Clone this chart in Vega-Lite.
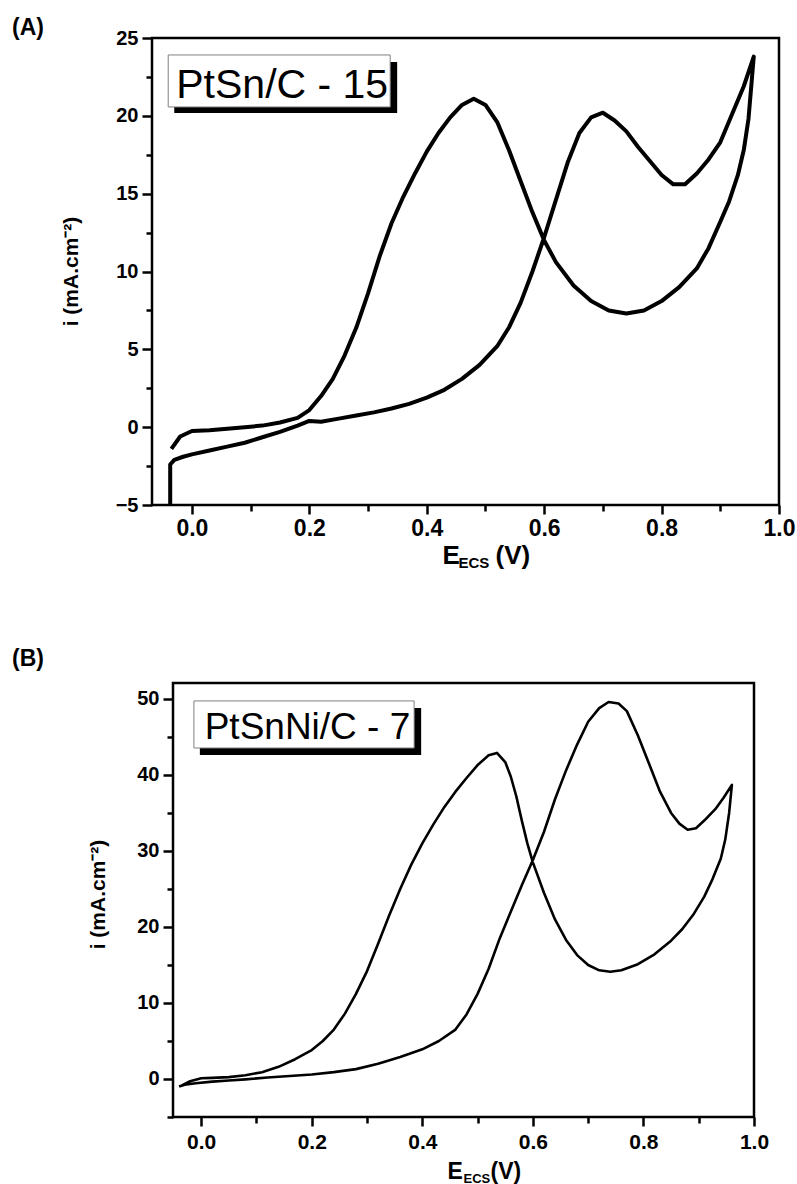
{
  "$schema": "https://vega.github.io/schema/vega-lite/v6.json",
  "autosize": {"type": "none"},
  "padding": {"left": 152, "top": 38, "right": 645, "bottom": 1146},
  "background": "white",
  "config": {
    "font": "Liberation Sans",
    "view": {"stroke": null},
    "axis": {"labelFont": "Liberation Sans", "titleFont": "Liberation Sans", "labelColor": "black", "titleColor": "black", "tickColor": "black", "labelFontWeight": "bold", "titleFontWeight": "bold", "grid": false, "domain": false, "labelOverlap": false, "labelFlush": false}
  },
  "datasets": {
    "curveA": [
      {"k":0,"E":-0.037,"i":-5.0},{"k":1,"E":-0.037,"i":-2.4},{"k":2,"E":-0.03,"i":-2.1},{"k":3,"E":-0.015,"i":-1.9},{"k":4,"E":0.0,"i":-1.75},{"k":5,"E":0.03,"i":-1.5},{"k":6,"E":0.06,"i":-1.25},{"k":7,"E":0.09,"i":-1.0},{"k":8,"E":0.12,"i":-0.65},{"k":9,"E":0.15,"i":-0.3},{"k":10,"E":0.18,"i":0.1},{"k":11,"E":0.2,"i":0.4},{"k":12,"E":0.22,"i":0.35},{"k":13,"E":0.25,"i":0.55},{"k":14,"E":0.28,"i":0.75},{"k":15,"E":0.31,"i":0.95},{"k":16,"E":0.34,"i":1.2},{"k":17,"E":0.37,"i":1.5},{"k":18,"E":0.40,"i":1.9},{"k":19,"E":0.43,"i":2.4},{"k":20,"E":0.46,"i":3.1},{"k":21,"E":0.49,"i":4.0},{"k":22,"E":0.52,"i":5.2},{"k":23,"E":0.54,"i":6.4},{"k":24,"E":0.56,"i":8.0},{"k":25,"E":0.58,"i":10.0},{"k":26,"E":0.60,"i":12.2},{"k":27,"E":0.62,"i":14.6},{"k":28,"E":0.64,"i":17.0},{"k":29,"E":0.66,"i":18.9},{"k":30,"E":0.68,"i":19.9},{"k":31,"E":0.70,"i":20.2},{"k":32,"E":0.72,"i":19.7},{"k":33,"E":0.74,"i":19.0},{"k":34,"E":0.76,"i":18.0},{"k":35,"E":0.78,"i":17.1},{"k":36,"E":0.80,"i":16.2},{"k":37,"E":0.82,"i":15.6},{"k":38,"E":0.84,"i":15.6},{"k":39,"E":0.86,"i":16.3},{"k":40,"E":0.88,"i":17.2},{"k":41,"E":0.90,"i":18.3},{"k":42,"E":0.92,"i":20.1},{"k":43,"E":0.94,"i":21.9},{"k":44,"E":0.957,"i":23.8},
      {"k":45,"E":0.953,"i":22.0},{"k":46,"E":0.948,"i":19.8},{"k":47,"E":0.94,"i":17.8},{"k":48,"E":0.93,"i":16.2},{"k":49,"E":0.915,"i":14.5},{"k":50,"E":0.90,"i":13.2},{"k":51,"E":0.88,"i":11.5},{"k":52,"E":0.86,"i":10.2},{"k":53,"E":0.83,"i":9.0},{"k":54,"E":0.80,"i":8.1},{"k":55,"E":0.77,"i":7.5},{"k":56,"E":0.74,"i":7.3},{"k":57,"E":0.71,"i":7.5},{"k":58,"E":0.68,"i":8.1},{"k":59,"E":0.65,"i":9.1},{"k":60,"E":0.62,"i":10.6},{"k":61,"E":0.60,"i":12.0},{"k":62,"E":0.58,"i":13.8},{"k":63,"E":0.56,"i":15.8},{"k":64,"E":0.54,"i":17.8},{"k":65,"E":0.52,"i":19.6},{"k":66,"E":0.50,"i":20.7},{"k":67,"E":0.48,"i":21.1},{"k":68,"E":0.46,"i":20.7},{"k":69,"E":0.44,"i":19.9},{"k":70,"E":0.42,"i":18.9},{"k":71,"E":0.40,"i":17.7},{"k":72,"E":0.38,"i":16.3},{"k":73,"E":0.36,"i":14.8},{"k":74,"E":0.34,"i":13.1},{"k":75,"E":0.32,"i":11.0},{"k":76,"E":0.30,"i":8.6},{"k":77,"E":0.28,"i":6.4},{"k":78,"E":0.26,"i":4.6},{"k":79,"E":0.24,"i":3.1},{"k":80,"E":0.22,"i":2.0},{"k":81,"E":0.20,"i":1.1},{"k":82,"E":0.18,"i":0.6},{"k":83,"E":0.15,"i":0.3},{"k":84,"E":0.12,"i":0.1},{"k":85,"E":0.09,"i":0.0},{"k":86,"E":0.06,"i":-0.1},{"k":87,"E":0.03,"i":-0.2},{"k":88,"E":0.0,"i":-0.25},{"k":89,"E":-0.02,"i":-0.6},{"k":90,"E":-0.035,"i":-1.4}
    ],
    "curveB": [
      {"k":0,"E":-0.04,"i":-1.0},{"k":1,"E":-0.03,"i":-0.75},{"k":2,"E":-0.01,"i":-0.55},{"k":3,"E":0.02,"i":-0.35},{"k":4,"E":0.05,"i":-0.2},{"k":5,"E":0.08,"i":-0.05},{"k":6,"E":0.12,"i":0.2},{"k":7,"E":0.16,"i":0.4},{"k":8,"E":0.20,"i":0.6},{"k":9,"E":0.24,"i":0.9},{"k":10,"E":0.28,"i":1.3},{"k":11,"E":0.32,"i":2.0},{"k":12,"E":0.36,"i":2.9},{"k":13,"E":0.40,"i":3.9},{"k":14,"E":0.43,"i":5.0},{"k":15,"E":0.46,"i":6.5},{"k":16,"E":0.48,"i":8.5},{"k":17,"E":0.50,"i":11.2},{"k":18,"E":0.52,"i":14.5},{"k":19,"E":0.54,"i":18.5},{"k":20,"E":0.56,"i":22.0},{"k":21,"E":0.58,"i":25.5},{"k":22,"E":0.60,"i":28.8},{"k":23,"E":0.62,"i":32.5},{"k":24,"E":0.64,"i":36.8},{"k":25,"E":0.66,"i":40.6},{"k":26,"E":0.68,"i":44.0},{"k":27,"E":0.70,"i":47.0},{"k":28,"E":0.72,"i":48.8},{"k":29,"E":0.737,"i":49.6},{"k":30,"E":0.755,"i":49.4},{"k":31,"E":0.77,"i":48.4},{"k":32,"E":0.79,"i":45.2},{"k":33,"E":0.81,"i":41.5},{"k":34,"E":0.83,"i":37.8},{"k":35,"E":0.85,"i":35.0},{"k":36,"E":0.865,"i":33.6},{"k":37,"E":0.88,"i":32.8},{"k":38,"E":0.895,"i":33.0},{"k":39,"E":0.91,"i":34.0},{"k":40,"E":0.93,"i":35.5},{"k":41,"E":0.945,"i":37.0},{"k":42,"E":0.96,"i":38.7},
      {"k":43,"E":0.955,"i":35.0},{"k":44,"E":0.948,"i":31.5},{"k":45,"E":0.94,"i":29.0},{"k":46,"E":0.925,"i":26.3},{"k":47,"E":0.91,"i":24.0},{"k":48,"E":0.89,"i":21.6},{"k":49,"E":0.87,"i":19.7},{"k":50,"E":0.85,"i":18.2},{"k":51,"E":0.82,"i":16.4},{"k":52,"E":0.79,"i":15.1},{"k":53,"E":0.76,"i":14.3},{"k":54,"E":0.74,"i":14.1},{"k":55,"E":0.72,"i":14.3},{"k":56,"E":0.70,"i":15.0},{"k":57,"E":0.68,"i":16.3},{"k":58,"E":0.66,"i":18.3},{"k":59,"E":0.64,"i":21.0},{"k":60,"E":0.62,"i":24.5},{"k":61,"E":0.60,"i":28.5},{"k":62,"E":0.59,"i":31.0},{"k":63,"E":0.58,"i":34.0},{"k":64,"E":0.57,"i":37.2},{"k":65,"E":0.56,"i":39.8},{"k":66,"E":0.55,"i":41.7},{"k":67,"E":0.535,"i":42.9},{"k":68,"E":0.52,"i":42.6},{"k":69,"E":0.50,"i":41.3},{"k":70,"E":0.48,"i":39.6},{"k":71,"E":0.46,"i":37.8},{"k":72,"E":0.44,"i":35.8},{"k":73,"E":0.42,"i":33.5},{"k":74,"E":0.40,"i":31.0},{"k":75,"E":0.38,"i":28.2},{"k":76,"E":0.36,"i":25.0},{"k":77,"E":0.34,"i":21.5},{"k":78,"E":0.32,"i":17.8},{"k":79,"E":0.30,"i":14.2},{"k":80,"E":0.28,"i":11.2},{"k":81,"E":0.26,"i":8.6},{"k":82,"E":0.24,"i":6.5},{"k":83,"E":0.22,"i":5.0},{"k":84,"E":0.20,"i":3.8},{"k":85,"E":0.17,"i":2.6},{"k":86,"E":0.14,"i":1.6},{"k":87,"E":0.11,"i":0.9},{"k":88,"E":0.08,"i":0.5},{"k":89,"E":0.05,"i":0.25},{"k":90,"E":0.02,"i":0.15},{"k":91,"E":0.0,"i":0.1},{"k":92,"E":-0.02,"i":-0.3},{"k":93,"E":-0.035,"i":-0.85}
    ],
    "labelA": [{"label":"PtSn/C - 15","E1":-0.0404,"E2":0.3377,"i1":20.57,"i2":23.91,"Es1":-0.0301,"Es2":0.3496,"is1":20.18,"is2":23.46,"Et":0.1538,"it":21.15}],
    "labelB": [{"label":"PtSnNi/C - 7","E1":-0.0132,"E2":0.3852,"i1":43.55,"i2":49.74,"Es1":-0.0024,"Es2":0.3979,"is1":42.63,"is2":48.82,"Et":0.1923,"it":44.74}]
  },
  "bounds": "flush",
  "spacing": 178,
  "vconcat": [
    {
      "width": 627,
      "height": 467,
      "view": {"stroke": "black", "strokeWidth": 2.5},
      "title": {"text": "(A)", "anchor": "start", "frame": "group", "dx": -140, "dy": 12, "offset": 0, "fontSize": 23, "fontWeight": "bold", "font": "Liberation Sans", "color": "black"},
      "resolve": {"axis": {"x": "independent", "y": "independent"}},
      "layer": [
        {
          "data": {"name": "curveA"},
          "mark": {"type": "line", "color": "black", "strokeWidth": 4, "strokeJoin": "round"},
          "encoding": {
            "x": {"field": "E", "type": "quantitative", "scale": {"domain": [-0.068, 1.0], "nice": false, "zero": false},
              "axis": {"orient": "bottom", "values": [0,0.1,0.2,0.3,0.4,0.5,0.6,0.7,0.8,0.9,1.0],
                "labelExpr": "round(datum.value*10)%2==0 ? format(datum.value,'.1f') : ''",
                "tickSize": {"condition": {"test": "round(datum.value*10)%2!=0", "value": 6}, "value": 9},
                "tickWidth": 2.5, "labelFontSize": 23, "labelPadding": 3,
                "title": "E", "titleFontSize": 26, "titleX": 290, "titleY": 58, "titleAlign": "left", "titleBaseline": "alphabetic"}},
            "y": {"field": "i", "type": "quantitative", "scale": {"domain": [-5, 25], "nice": false, "zero": false},
              "axis": {"orient": "left", "values": [-5,-2.5,0,2.5,5,7.5,10,12.5,15,17.5,20,22.5,25],
                "labelExpr": "datum.value%5==0 ? datum.label : ''",
                "tickSize": {"condition": {"test": "datum.value%5!=0", "value": 6}, "value": 10},
                "tickWidth": 2.5, "labelFontSize": 20, "labelPadding": 4,
                "title": "i (mA.cm⁻²)", "titleFontSize": 21, "titleX": -75, "titleY": 233, "titleAlign": "center", "titleBaseline": "alphabetic", "titleAngle": -90}},
            "order": {"field": "k", "type": "quantitative"}
          }
        },
        {
          "data": {"name": "labelA"},
          "mark": {"type": "rect", "fill": "black"},
          "encoding": {
            "x": {"field": "Es1", "type": "quantitative", "scale": {"domain": [-0.068, 1.0], "nice": false, "zero": false},
              "axis": {"orient": "bottom", "ticks": false, "labels": false, "title": "ECS", "titleFontSize": 15, "titleX": 306, "titleY": 62, "titleAlign": "left", "titleBaseline": "alphabetic"}},
            "x2": {"field": "Es2"},
            "y": {"field": "is1", "type": "quantitative", "scale": {"domain": [-5, 25], "nice": false, "zero": false}, "axis": null},
            "y2": {"field": "is2"}
          }
        },
        {
          "data": {"name": "labelA"},
          "mark": {"type": "rect", "fill": "white", "stroke": "#808080", "strokeWidth": 1},
          "encoding": {
            "x": {"field": "E1", "type": "quantitative", "scale": {"domain": [-0.068, 1.0], "nice": false, "zero": false},
              "axis": {"orient": "bottom", "ticks": false, "labels": false, "title": "(V)", "titleFontSize": 26, "titleX": 343, "titleY": 58, "titleAlign": "left", "titleBaseline": "alphabetic"}},
            "x2": {"field": "E2"},
            "y": {"field": "i1", "type": "quantitative", "scale": {"domain": [-5, 25], "nice": false, "zero": false}, "axis": null},
            "y2": {"field": "i2"}
          }
        },
        {
          "data": {"name": "labelA"},
          "mark": {"type": "text", "font": "Liberation Sans", "fontSize": 41, "align": "center", "baseline": "alphabetic", "color": "black"},
          "encoding": {
            "x": {"field": "Et", "type": "quantitative", "scale": {"domain": [-0.068, 1.0], "nice": false, "zero": false}, "axis": null},
            "y": {"field": "it", "type": "quantitative", "scale": {"domain": [-5, 25], "nice": false, "zero": false}, "axis": null},
            "text": {"field": "label"}
          }
        }
      ]
    },
    {
      "bounds": "flush",
      "spacing": 0,
      "hconcat": [
        {
          "width": 21,
          "height": 1,
          "view": {"stroke": null},
          "data": {"values": [{"s": 0}]},
          "mark": {"type": "point", "opacity": 0},
          "encoding": {}
        },
        {
          "width": 581,
          "height": 434,
          "view": {"stroke": "black", "strokeWidth": 2.5},
          "title": {"text": "(B)", "anchor": "start", "frame": "group", "dx": -161, "dy": -12, "offset": 0, "fontSize": 23, "fontWeight": "bold", "font": "Liberation Sans", "color": "black"},
          "resolve": {"axis": {"x": "independent", "y": "independent"}},
          "layer": [
            {
              "data": {"name": "curveB"},
              "mark": {"type": "line", "color": "black", "strokeWidth": 2.6, "strokeJoin": "round"},
              "encoding": {
                "x": {"field": "E", "type": "quantitative", "scale": {"domain": [-0.051, 1.0], "nice": false, "zero": false},
                  "axis": {"orient": "bottom", "values": [0,0.1,0.2,0.3,0.4,0.5,0.6,0.7,0.8,0.9,1.0],
                    "labelExpr": "round(datum.value*10)%2==0 ? format(datum.value,'.1f') : ''",
                    "tickSize": {"condition": {"test": "round(datum.value*10)%2!=0", "value": 6}, "value": 9},
                    "tickWidth": 2.5, "labelFontSize": 21, "labelPadding": 5,
                    "title": "E", "titleFontSize": 23, "titleX": 274, "titleY": 61, "titleAlign": "left", "titleBaseline": "alphabetic"}},
                "y": {"field": "i", "type": "quantitative", "scale": {"domain": [-5, 52.1], "nice": false, "zero": false},
                  "axis": {"orient": "left", "values": [-5,0,5,10,15,20,25,30,35,40,45,50],
                    "labelExpr": "datum.value%10==0 ? datum.label : ''",
                    "tickSize": {"condition": {"test": "datum.value%10!=0", "value": 6}, "value": 10},
                    "tickWidth": 2.5, "labelFontSize": 20, "labelPadding": 4,
                    "title": "i (mA.cm⁻²)", "titleFontSize": 21, "titleX": -69, "titleY": 211, "titleAlign": "center", "titleBaseline": "alphabetic", "titleAngle": -90}},
                "order": {"field": "k", "type": "quantitative"}
              }
            },
            {
              "data": {"name": "labelB"},
              "mark": {"type": "rect", "fill": "black"},
              "encoding": {
                "x": {"field": "Es1", "type": "quantitative", "scale": {"domain": [-0.051, 1.0], "nice": false, "zero": false},
                  "axis": {"orient": "bottom", "ticks": false, "labels": false, "title": "ECS", "titleFontSize": 13, "titleX": 290, "titleY": 65, "titleAlign": "left", "titleBaseline": "alphabetic"}},
                "x2": {"field": "Es2"},
                "y": {"field": "is1", "type": "quantitative", "scale": {"domain": [-5, 52.1], "nice": false, "zero": false}, "axis": null},
                "y2": {"field": "is2"}
              }
            },
            {
              "data": {"name": "labelB"},
              "mark": {"type": "rect", "fill": "white", "stroke": "#808080", "strokeWidth": 1},
              "encoding": {
                "x": {"field": "E1", "type": "quantitative", "scale": {"domain": [-0.051, 1.0], "nice": false, "zero": false},
                  "axis": {"orient": "bottom", "ticks": false, "labels": false, "title": "(V)", "titleFontSize": 23, "titleX": 317, "titleY": 61, "titleAlign": "left", "titleBaseline": "alphabetic"}},
                "x2": {"field": "E2"},
                "y": {"field": "i1", "type": "quantitative", "scale": {"domain": [-5, 52.1], "nice": false, "zero": false}, "axis": null},
                "y2": {"field": "i2"}
              }
            },
            {
              "data": {"name": "labelB"},
              "mark": {"type": "text", "font": "Liberation Sans", "fontSize": 37, "align": "center", "baseline": "alphabetic", "color": "black"},
              "encoding": {
                "x": {"field": "Et", "type": "quantitative", "scale": {"domain": [-0.051, 1.0], "nice": false, "zero": false}, "axis": null},
                "y": {"field": "it", "type": "quantitative", "scale": {"domain": [-5, 52.1], "nice": false, "zero": false}, "axis": null},
                "text": {"field": "label"}
              }
            }
          ]
        }
      ]
    }
  ]
}
